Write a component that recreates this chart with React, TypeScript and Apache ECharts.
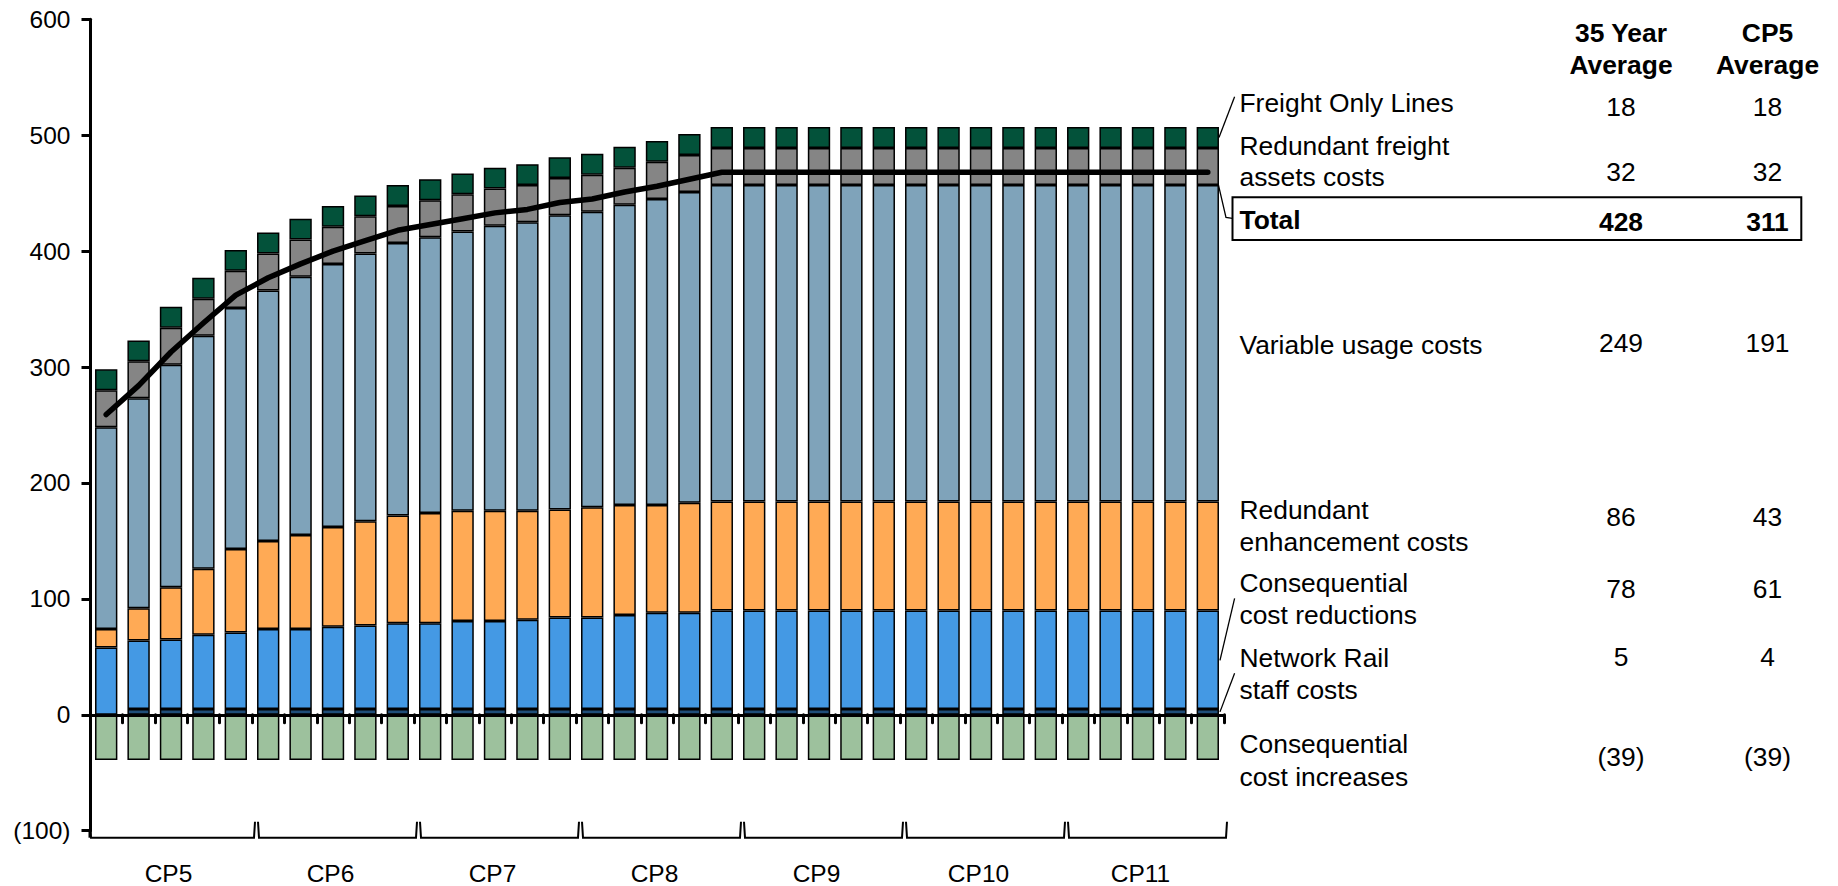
import React, { useEffect, useRef } from 'react';
import * as echarts from 'echarts';

// ---------- data ----------
const periods = ['CP5', 'CP6', 'CP7', 'CP8', 'CP9', 'CP10', 'CP11'];
const yearsPerPeriod = 5;
const years = [
  '2014/15', '2015/16', '2016/17', '2017/18', '2018/19',
  '2019/20', '2020/21', '2021/22', '2022/23', '2023/24',
  '2024/25', '2025/26', '2026/27', '2027/28', '2028/29',
  '2029/30', '2030/31', '2031/32', '2032/33', '2033/34',
  '2034/35', '2035/36', '2036/37', '2037/38', '2038/39',
  '2039/40', '2040/41', '2041/42', '2042/43', '2043/44',
  '2044/45', '2045/46', '2046/47', '2047/48', '2048/49',
];
const staffCosts = [0, 5, 5, 5, 5, 5, 5, 5, 5, 5, 5, 5, 5, 5, 5, 5, 5, 5, 5, 5, 5, 5, 5, 5, 5, 5, 5, 5, 5, 5, 5, 5, 5, 5, 5];
const costReductions = [58, 59, 60, 64, 66, 69, 69, 71, 72, 74, 74, 76, 76, 77, 79, 79, 81, 83, 83, 85, 85, 85, 85, 85, 85, 85, 85, 85, 85, 85, 85, 85, 85, 85, 85];
const enhancementCosts = [16, 28, 45, 57, 72, 76, 81, 86, 90, 93, 95, 95, 95, 94, 93, 95, 95, 93, 95, 94, 94, 94, 94, 94, 94, 94, 94, 94, 94, 94, 94, 94, 94, 94, 94];
const variableUsage = [174, 181, 192, 201, 208, 216, 223, 227, 231, 235, 238, 241, 246, 249, 254, 255, 259, 264, 268, 273, 273, 273, 273, 273, 273, 273, 273, 273, 273, 273, 273, 273, 273, 273, 273];
const freightAssets = [32, 32, 32, 32, 32, 32, 32, 32, 32, 32, 32, 32, 32, 32, 32, 32, 32, 32, 32, 32, 32, 32, 32, 32, 32, 32, 32, 32, 32, 32, 32, 32, 32, 32, 32];
const freightOnly = [18, 18, 18, 18, 18, 18, 18, 18, 18, 18, 18, 18, 18, 18, 18, 18, 18, 18, 18, 18, 18, 18, 18, 18, 18, 18, 18, 18, 18, 18, 18, 18, 18, 18, 18];
const costIncreases = [-39, -39, -39, -39, -39, -39, -39, -39, -39, -39, -39, -39, -39, -39, -39, -39, -39, -39, -39, -39, -39, -39, -39, -39, -39, -39, -39, -39, -39, -39, -39, -39, -39, -39, -39];
const totals = years.map((_, i) =>
  staffCosts[i] + costReductions[i] + enhancementCosts[i] + variableUsage[i] + freightAssets[i] + freightOnly[i] + costIncreases[i]
);

const yTicks = [-100, 0, 100, 200, 300, 400, 500, 600];

const tableHeaders = [['35 Year', 'Average'], ['CP5', 'Average']];
const tableLabels = [
  ['Freight Only Lines'],
  ['Redundant freight', 'assets costs'],
  ['Total'],
  ['Variable usage costs'],
  ['Redundant', 'enhancement costs'],
  ['Consequential', 'cost reductions'],
  ['Network Rail', 'staff costs'],
  ['Consequential', 'cost increases'],
];
const avg35Year = ['18', '32', '428', '249', '86', '78', '5', '(39)'];
const avgCP5 = ['18', '32', '311', '191', '43', '61', '4', '(39)'];

// ---------- layout ----------
const FONT = "'Liberation Sans', Arial, Helvetica, sans-serif";
const AXIS_FS = 24.5;
const FS = 26.4;
const labelX = 1239.5;
const col1X = 1621;
const col2X = 1767.5;
const headerY = [33.3, 65];
const labelLineY = [[102.7], [146, 176.7], [220], [345], [510, 541.7], [583.3, 615], [658.3, 690], [744.3, 776.7]];
const valueY = [106.7, 171.7, 221.7, 343.3, 517.3, 589.3, 656.7, 756.7];

const COLORS = {
  staff: '#1F4E79',
  reductions: '#4499E4',
  enhancement: '#FFAA55',
  variable: '#7FA3BA',
  assets: '#858585',
  freight: '#03523A',
  increases: '#9DC19D',
};

export default function App() {
  const ref = useRef<HTMLDivElement>(null);

  useEffect(() => {
    const chart = echarts.init(ref.current!, null, { renderer: 'svg' });
    const barBase = {
      type: 'bar' as const,
      stack: 'total',
      barCategoryGap: '31%',
      xAxisIndex: 0,
      yAxisIndex: 0,
    };
    const item = (color: string) => ({ color, borderColor: '#000', borderWidth: 1.5 });

    chart.setOption({
      animation: false,
      backgroundColor: '#fff',
      grid: { left: 90, right: 614, top: 19.3, bottom: 55.3 },
      xAxis: [
        {
          type: 'category',
          data: years,
          z: 5,
          axisLine: { onZero: true, lineStyle: { color: '#000', width: 3 } },
          axisTick: { show: true, interval: 0, length: 8, lineStyle: { color: '#000', width: 3, cap: 'round' } },
          axisLabel: { show: false },
          splitLine: { show: false },
        },
        {
          type: 'category',
          data: periods,
          position: 'bottom',
          axisLine: { show: false, onZero: false },
          axisTick: { show: false },
          axisLabel: { color: '#000', fontSize: AXIS_FS, fontFamily: FONT, margin: 30, padding: [0, 5, 0, 0] },
          splitLine: { show: false },
        },
      ],
      yAxis: {
        type: 'value',
        min: yTicks[0],
        max: yTicks[yTicks.length - 1],
        interval: 100,
        axisLine: { show: true, lineStyle: { color: '#000', width: 3 } },
        axisTick: { show: true, length: 8.5, lineStyle: { color: '#000', width: 3 } },
        axisLabel: {
          color: '#000',
          fontSize: AXIS_FS,
          fontFamily: FONT,
          margin: 19.5,
          formatter: (v: number) => (v < 0 ? `(${-v})` : `${v}`),
        },
        splitLine: { show: false },
      },
      series: [
        { ...barBase, name: 'Network Rail staff costs', data: staffCosts, itemStyle: item(COLORS.staff) },
        { ...barBase, name: 'Consequential cost reductions', data: costReductions, itemStyle: item(COLORS.reductions) },
        { ...barBase, name: 'Redundant enhancement costs', data: enhancementCosts, itemStyle: item(COLORS.enhancement) },
        { ...barBase, name: 'Variable usage costs', data: variableUsage, itemStyle: item(COLORS.variable) },
        { ...barBase, name: 'Redundant freight assets costs', data: freightAssets, itemStyle: item(COLORS.assets) },
        { ...barBase, name: 'Freight Only Lines', data: freightOnly, itemStyle: item(COLORS.freight) },
        { ...barBase, name: 'Consequential cost increases', data: costIncreases, itemStyle: item(COLORS.increases) },
        {
          type: 'line',
          name: 'Total',
          data: totals,
          xAxisIndex: 0,
          yAxisIndex: 0,
          symbol: 'none',
          z: 10,
          lineStyle: { color: '#000', width: 5.5, cap: 'round', join: 'round' },
        },
      ],
    });

    // ---------- annotations derived from the chart's scales ----------
    const cx = (i: number) => chart.convertToPixel({ xAxisIndex: 0 }, years[i]) as number;
    const yPix = (v: number) => chart.convertToPixel({ yAxisIndex: 0 }, v) as number;
    const band = cx(1) - cx(0);
    const boundary = (k: number) => cx(0) - band / 2 + k * band;
    const last = years.length - 1;
    const barRight = cx(last) + (band * 0.69) / 2;
    const yMin = yPix(yTicks[0]);
    const brTop = yMin - 9;
    const brBot = yMin + 7;

    const graphics: any[] = [];
    // axis extension down to the brackets
    graphics.push({
      type: 'line',
      shape: { x1: boundary(0), y1: yMin, x2: boundary(0), y2: brBot },
      style: { stroke: '#000', lineWidth: 3 },
    });
    periods.forEach((_, g) => {
      const lx = boundary(g * yearsPerPeriod) + (g === 0 ? 0 : 6);
      const rx = boundary((g + 1) * yearsPerPeriod) + 3;
      graphics.push({
        type: 'polyline',
        shape: { points: [[lx, brTop], [lx + 1, brBot], [rx - 1, brBot], [rx, brTop]] },
        style: { stroke: '#000', lineWidth: 2, fill: null },
      });
    });

    const thin = { stroke: '#000', lineWidth: 1.3, fill: null };
    graphics.push({ type: 'polyline', shape: { points: [[barRight, yPix(498)], [1234.6, 96.7]] }, style: thin });
    graphics.push({
      type: 'polyline',
      shape: { points: [[barRight - 3, yPix(468) + 2], [barRight + 7, 217.3], [1232.5, 218.3]] },
      style: thin,
    });
    graphics.push({ type: 'polyline', shape: { points: [[barRight + 1, yPix(47)], [1234.6, 598.3]] }, style: thin });
    graphics.push({ type: 'polyline', shape: { points: [[barRight + 1, yPix(2.5)], [1234.6, 673.3]] }, style: thin });

    // total box
    graphics.push({
      type: 'rect',
      shape: { x: 1232.5, y: 197.3, width: 568.8, height: 42.7 },
      style: { fill: 'none', stroke: '#000', lineWidth: 2 },
    });

    const txt = (text: string, x: number, y: number, align: string, bold = false) => ({
      type: 'text',
      x,
      y,
      style: {
        text,
        fill: '#000',
        fontSize: FS,
        fontFamily: FONT,
        fontWeight: bold ? 'bold' : 'normal',
        textAlign: align,
        textVerticalAlign: 'middle',
      },
    });

    tableHeaders[0].forEach((t, i) => graphics.push(txt(t, col1X, headerY[i], 'center', true)));
    tableHeaders[1].forEach((t, i) => graphics.push(txt(t, col2X, headerY[i], 'center', true)));
    tableLabels.forEach((lines, r) => {
      const bold = r === 2;
      lines.forEach((t, j) => graphics.push(txt(t, labelX, labelLineY[r][j], 'left', bold)));
      graphics.push(txt(avg35Year[r], col1X, valueY[r], 'center', bold));
      graphics.push(txt(avgCP5[r], col2X, valueY[r], 'center', bold));
    });

    chart.setOption({ graphic: graphics });

    return () => chart.dispose();
  }, []);

  return <div ref={ref} style={{ position: 'fixed', left: 0, top: 0, width: 1838, height: 886 }} />;
}
